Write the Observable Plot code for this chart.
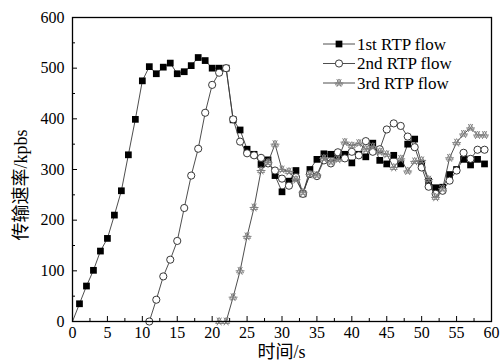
<!DOCTYPE html>
<html><head><meta charset="utf-8">
<script src="https://cdn.jsdelivr.net/npm/d3@7"></script>
<script src="https://cdn.jsdelivr.net/npm/@observablehq/plot@0.6"></script>
<style>
body{margin:0;background:#fff}
#c{position:relative;width:503px;height:362px}
#c svg{display:block}
#overlay{position:absolute;left:0;top:0}
</style>
</head><body><div id="c"></div>
<script>
const seriesNames = ["1st RTP flow", "2nd RTP flow", "3rd RTP flow"];
const time = [0,1,2,3,4,5,6,7,8,9,10,11,12,13,14,15,16,17,18,19,20,21,22,23,24,25,26,27,28,29,30,31,32,33,34,35,36,37,38,39,40,41,42,43,44,45,46,47,48,49,50,51,52,53,54,55,56,57,58,59];
const flow1 = [0,35,70,101,139,164,210,258,329,399,475,503,489,502,510,489,493,505,521,515,500,500,500,398,378,340,330,310,319,288,256,277,298,252,300,320,331,330,325,330,313,330,325,352,318,311,328,311,350,360,312,277,264,265,290,300,320,309,320,311];
const flow2 = [null,null,null,null,null,null,null,null,null,null,null,0,43,89,122,159,224,288,341,412,467,491,500,399,355,332,328,323,312,298,282,268,285,252,291,287,318,312,334,322,335,328,356,335,340,379,391,386,365,344,304,266,252,258,278,298,333,321,339,339];
const flow3 = [null,null,null,null,null,null,null,null,null,null,null,null,null,null,null,null,null,null,null,null,null,0,0,48,100,168,225,298,314,350,300,296,280,255,290,289,322,315,320,354,347,352,340,345,335,330,304,321,297,316,318,280,245,262,323,353,370,382,368,368];
const yMajor = [0,100,200,300,400,500,600];
const yMinor = [50,150,250,350,450,550];
const xMajor = [0,5,10,15,20,25,30,35,40,45,50,55,60];
const xMinor = [2.5,7.5,12.5,17.5,22.5,27.5,32.5,37.5,42.5,47.5,52.5,57.5];
const xTitle = "时间/s";
const yTitle = "传输速率/kpbs";

const toRows = (vals) => vals.map((v, i) => ({t: time[i], v})).filter(d => d.v != null);
const r1 = toRows(flow1), r2 = toRows(flow2), r3 = toRows(flow3);

const font = "'Liberation Serif', 'Times New Roman', 'Noto Sans CJK SC', serif";
const lineStroke = "#3a3a3a";
const starColor = "#808080";
const mL = 72, mR = 12, mT = 17, mB = 41, W = 503, H = 362;

const chart = Plot.plot({
  width: W, height: H,
  marginLeft: mL, marginRight: mR, marginTop: mT, marginBottom: mB,
  style: {fontFamily: font, fontSize: "16px", color: "#000", background: "#fff"},
  x: {domain: [0, 60]},
  y: {domain: [0, 600]},
  marks: [
    Plot.line(r1, {x: "t", y: "v", stroke: lineStroke, strokeWidth: 0.9}),
    Plot.dot(r1.filter(d => d.t > 0), {x: "t", y: "v", symbol: "square", r: 3.8, fill: "#000", stroke: "none"}),
    Plot.line(r2, {x: "t", y: "v", stroke: lineStroke, strokeWidth: 0.9}),
    Plot.dot(r2, {x: "t", y: "v", symbol: "circle", r: 3.6, fill: "#fff", stroke: "#222", strokeWidth: 0.9}),
    Plot.line(r3, {x: "t", y: "v", stroke: lineStroke, strokeWidth: 0.9}),
    Plot.dot(r3, {x: "t", y: "v", symbol: "asterisk", rotate: 90, r: 4.2, stroke: starColor, strokeWidth: 1}),
    Plot.dot(r3, {x: "t", y: "v", symbol: "triangle", r: 2.6, fill: "none", stroke: starColor, strokeWidth: 0.9}),
    Plot.axisY(yMajor, {tickSize: 0, tickPadding: 8, fontSize: 16, label: null}),
    Plot.axisY(yMajor, {tickSize: 5, insetLeft: 5, tickFormat: () => "", label: null, strokeWidth: 1}),
    Plot.axisY(yMinor, {tickSize: 3, insetLeft: 3, tickFormat: () => "", label: null, strokeWidth: 1}),
    Plot.axisX(xMajor, {tickSize: 0, tickPadding: 5, fontSize: 16, label: null}),
    Plot.axisX(xMajor, {tickSize: 5, insetBottom: 5, tickFormat: () => "", label: null, strokeWidth: 1}),
    Plot.axisX(xMinor, {tickSize: 3, insetBottom: 3, tickFormat: () => "", label: null, strokeWidth: 1}),
    Plot.frame({stroke: "#000", strokeWidth: 1.3})
  ]
});
document.getElementById("c").appendChild(chart);

// Overlay: axis titles and legend
const ov = d3.select("#c").append("svg").attr("id", "overlay").attr("width", W).attr("height", H);
const titleFont = "'Liberation Serif', 'Noto Sans CJK SC', serif";
ov.append("text").attr("x", (mL + W - mR) / 2).attr("y", 352).attr("dy", "0.35em")
  .attr("text-anchor", "middle").attr("font-family", titleFont).attr("font-size", 18).text(xTitle);
ov.append("text").attr("transform", `translate(21,${185}) rotate(-90)`).attr("dy", "0.35em")
  .attr("text-anchor", "middle").attr("font-family", titleFont).attr("font-size", 18).text(yTitle);

const lx = 323, lw = 32, ly0 = 44, ldy = 19.5;
seriesNames.forEach((name, i) => {
  const y = ly0 + i * ldy;
  const g = ov.append("g");
  g.append("line").attr("x1", lx).attr("x2", lx + lw).attr("y1", y).attr("y2", y).attr("stroke", lineStroke).attr("stroke-width", 0.9);
  const cx = lx + lw / 2;
  if (i === 0) {
    g.append("path").attr("d", d3.symbol(d3.symbolSquare, Math.PI * 3.8 * 3.8)()).attr("transform", `translate(${cx},${y})`).attr("fill", "#000");
  } else if (i === 1) {
    g.append("circle").attr("cx", cx).attr("cy", y).attr("r", 3.6).attr("fill", "#fff").attr("stroke", "#222").attr("stroke-width", 0.9);
  } else {
    g.append("path").attr("d", d3.symbol(d3.symbolAsterisk, Math.PI * 4.2 * 4.2)()).attr("transform", `translate(${cx},${y}) rotate(90)`).attr("fill", "none").attr("stroke", starColor);
    g.append("path").attr("d", d3.symbol(d3.symbolTriangle, Math.PI * 2.6 * 2.6)()).attr("transform", `translate(${cx},${y})`).attr("fill", "none").attr("stroke", starColor).attr("stroke-width", 0.9);
  }
  g.append("text").attr("x", lx + lw + 2).attr("y", y).attr("dy", "0.35em").attr("font-family", font).attr("font-size", 17).text(name);
});
</script>
</body></html>
